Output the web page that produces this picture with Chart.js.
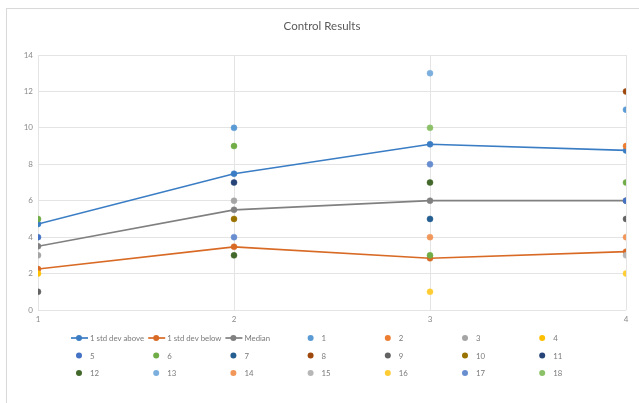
<!DOCTYPE html>
<html>
<head>
<meta charset="utf-8">
<title>Control Results</title>
<script src="https://cdn.jsdelivr.net/npm/chart.js@4/dist/chart.umd.min.js"></script>
<style>
  html, body { margin: 0; padding: 0; background: #ffffff; }
  #wrap { position: relative; width: 639px; height: 403px; overflow: hidden; }
  #frame { position: absolute; left: 6px; top: 8px; width: 700px; height: 500px;
           border-left: 1px solid #d9d9d9; border-top: 1px solid #d9d9d9; }
  canvas { position: absolute; left: 0; top: 0; }
</style>
</head>
<body>
<div id="wrap">
  <div id="frame"></div>
  <canvas id="chart" width="639" height="403"></canvas>
</div>
<script>
// Sample positions along the horizontal axis
const categories = [1, 2, 3, 4];

// Summary lines
const stdAbove = [4.72, 7.48, 9.1, 8.76];
const stdBelow = [2.25, 3.47, 2.84, 3.2];
const median   = [3.5, 5.5, 6, 6];

// Individual control readings (null = no reading at that position)
const ctrl1  = [null, 10, null, 11];
const ctrl2  = [null, null, null, 9];
const ctrl3  = [3, 6, null, null];
const ctrl4  = [2, null, null, null];
const ctrl5  = [4, null, null, 6];
const ctrl6  = [5, 9, 3, 7];
const ctrl7  = [null, null, 5, null];
const ctrl8  = [null, null, null, 12];
const ctrl9  = [1, null, null, 5];
const ctrl10 = [null, 5, null, null];
const ctrl11 = [null, 7, null, null];
const ctrl12 = [null, 3, 7, null];
const ctrl13 = [null, null, 13, null];
const ctrl14 = [null, null, 4, 4];
const ctrl15 = [null, null, null, 3];
const ctrl16 = [null, null, 1, 2];
const ctrl17 = [null, 4, 8, null];
const ctrl18 = [null, null, 10, null];

const controlNames = ['1','2','3','4','5','6','7','8','9','10','11','12','13','14','15','16','17','18'];
const controlSeries = [ctrl1, ctrl2, ctrl3, ctrl4, ctrl5, ctrl6, ctrl7, ctrl8, ctrl9,
                       ctrl10, ctrl11, ctrl12, ctrl13, ctrl14, ctrl15, ctrl16, ctrl17, ctrl18];

// Y axis tick values
const yTicks = [0, 2, 4, 6, 8, 10, 12, 14];

const controlColors = ['#5B9BD5','#ED7D31','#A5A5A5','#FFC000','#4472C4','#70AD47',
                       '#255E91','#9E480E','#636363','#997300','#264478','#43682B',
                       '#7CAFDD','#F1975A','#B7B7B7','#FFCD33','#698ED0','#8CC168'];

const FONT = 'Lato, "Liberation Sans", sans-serif';

function toPoints(values) {
  const pts = [];
  values.forEach((v, i) => { if (v !== null) pts.push({ x: categories[i], y: v }); });
  return pts;
}

function lineSet(label, values, color) {
  return {
    label, data: toPoints(values), showLine: true, order: 1,
    borderColor: color, backgroundColor: color, borderWidth: 1.7,
    pointRadius: 3, pointBorderWidth: 0.5, pointBorderColor: color, pointBackgroundColor: color,
    tension: 0
  };
}

const datasets = [
  lineSet('1 std dev above', stdAbove, '#3A7DC4'),
  lineSet('1 std dev below', stdBelow, '#D86A25'),
  lineSet('Median', median, '#808080')
];
controlSeries.forEach((vals, i) => {
  datasets.push({
    label: controlNames[i], data: toPoints(vals), showLine: false, order: 0,
    pointRadius: 3, pointBorderWidth: 0.5,
    pointBackgroundColor: controlColors[i], pointBorderColor: controlColors[i],
    backgroundColor: controlColors[i], borderColor: controlColors[i]
  });
});

// Legend laid out as a fixed grid of seven columns beneath the plot
const gridLegend = {
  id: 'gridLegend',
  afterDraw(chart) {
    const ctx = chart.ctx;
    const cols = 7, x0 = 79, colW = 77.2, y0 = 338, rowH = 17.5;
    ctx.save();
    ctx.font = '7.8px ' + FONT;
    ctx.textBaseline = 'middle';
    ctx.textAlign = 'left';
    chart.data.datasets.forEach((ds, i) => {
      const cx = x0 + (i % cols) * colW;
      const cy = y0 + Math.floor(i / cols) * rowH;
      const color = ds.showLine ? ds.borderColor : ds.pointBackgroundColor;
      if (ds.showLine) {
        ctx.strokeStyle = color;
        ctx.lineWidth = 1.7;
        ctx.beginPath();
        ctx.moveTo(cx - 8, cy);
        ctx.lineTo(cx + 9, cy);
        ctx.stroke();
      }
      ctx.fillStyle = color;
      ctx.beginPath();
      ctx.arc(cx, cy, 3, 0, Math.PI * 2);
      ctx.fill();
      ctx.fillStyle = '#7a7a7a';
      ctx.fillText(ds.label, cx + 11, cy + 0.5);
    });
    ctx.restore();
  }
};

new Chart(document.getElementById('chart'), {
  type: 'scatter',
  data: { datasets },
  plugins: [gridLegend],
  options: {
    responsive: false,
    animation: false,
    devicePixelRatio: 1,
    layout: { padding: { left: 18, right: 13, top: 6, bottom: 73 } },
    plugins: {
      legend: { display: false },
      tooltip: { enabled: false },
      title: {
        display: true,
        text: 'Control Results',
        color: '#595959',
        font: { family: FONT, size: 11.5, weight: 'normal' },
        padding: { top: 13, bottom: 22.2 }
      }
    },
    scales: {
      x: {
        type: 'linear', min: 1, max: 4,
        afterFit(s) { s.height = 20; },
        ticks: { stepSize: 1, color: '#8a8a8a', padding: 5, font: { family: FONT, size: 8 } },
        grid: { color: '#e4e4e4', drawTicks: false, lineWidth: 1 },
        border: { display: false }
      },
      y: {
        min: 0, max: 14,
        afterFit(s) { s.width = 20; },
        afterBuildTicks(s) { s.ticks = yTicks.map(v => ({ value: v })); },
        ticks: { color: '#8a8a8a', padding: 5, font: { family: FONT, size: 8 } },
        grid: { color: '#e4e4e4', drawTicks: false, lineWidth: 1 },
        border: { display: false }
      }
    }
  }
});
</script>
</body>
</html>
